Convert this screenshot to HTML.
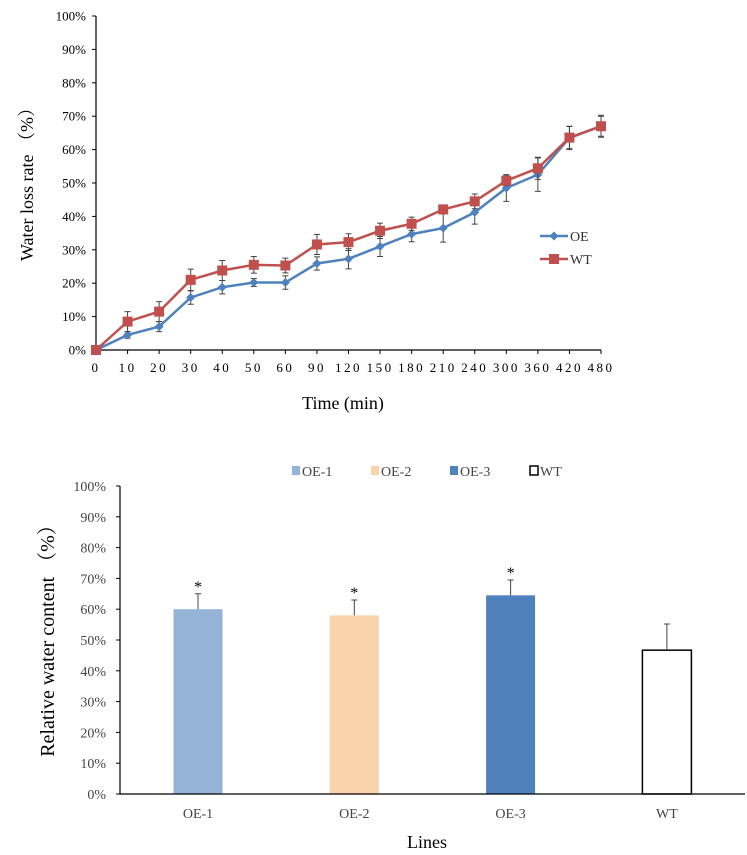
<!DOCTYPE html>
<html><head><meta charset="utf-8"><style>
html,body{margin:0;padding:0;background:#fff;}
svg{display:block;font-family:"Liberation Serif","Noto Serif CJK SC",serif;}
</style></head><body>
<svg id="s" width="747" height="855" viewBox="0 0 747 855">
<g id="top"></g>
<g id="bot"></g>
</svg>
<script>
const NS="http://www.w3.org/2000/svg";
const timeCats=["0","10","20","30","40","50","60","90","120","150","180","210","240","300","360","420","480"];
const oeVals=[0,4.5,7,15.7,18.8,20.2,20.2,25.9,27.3,31,34.7,36.5,41.2,48.5,52.5,63.5,67];
const oeErr=[0,1,1.5,2,2,1.2,2,2,3,3,2.3,4.2,3.5,4,5,3.5,3];
const wtVals=[0,8.5,11.5,21,23.8,25.5,25.3,31.6,32.3,35.7,37.8,42.1,44.5,50.7,54.4,63.6,67];
const wtErr=[0,3,3,3.2,3,2.5,2.2,3,2.5,2.3,2,0,2.2,1.5,3.3,3.3,3.3];
const yTicks=[0,10,20,30,40,50,60,70,80,90,100];
const barCats=["OE-1","OE-2","OE-3","WT"];
const barVals=[60,58,64.5,46.7];
const barErr=[5,5,5,8.5];
const barColors=["#95b3d7","#fad3ad","#4f81bd","#ffffff"];

function mk(p,tag,attrs,txt){const e=document.createElementNS(NS,tag);for(const k in attrs)e.setAttribute(k,attrs[k]);if(txt!==undefined)e.textContent=txt;p.appendChild(e);return e;}

// ---- Top chart ----
const T=document.getElementById('top');
const tx0=96,tx1=601,ty0=350,ty1=16;
const tX=i=>tx0+i*(tx1-tx0)/(timeCats.length-1);
const tY=v=>ty0-v*(ty0-ty1)/100;
let ax=mk(T,'path',{d:`M${tx0} ${ty1}V${ty0}H${tx1}`,fill:'none',stroke:'#000','stroke-width':1.2});

yTicks.forEach(v=>{
  let t=mk(T,'line',{x1:tx0-4,x2:tx0,y1:tY(v),y2:tY(v),stroke:'#000'});
  
  let l=mk(T,'text',{x:tx0-10,y:tY(v)+4.5,'text-anchor':'end','font-size':13},v+'%');
  
});
timeCats.forEach((c,i)=>{
  let t=mk(T,'line',{x1:tX(i),x2:tX(i),y1:ty0,y2:ty0+4,stroke:'#000'});
  
  let l=mk(T,'text',{x:tX(i),y:372,'text-anchor':'middle','font-size':13,'letter-spacing':'2.5'},c);
  
});
function series(vals,err,color,marker,name){
  const g=mk(T,'g',{});
  
  vals.forEach((v,i)=>{ if(err[i]>0){
    const x=tX(i),a=tY(v+err[i]),b=tY(v-err[i]);
    let e=mk(g,'path',{d:`M${x} ${a}V${b}M${x-3} ${a}H${x+3}M${x-3} ${b}H${x+3}`,stroke:'#444','stroke-width':1,fill:'none'});
    
  }});
  let p=mk(g,'polyline',{points:vals.map((v,i)=>tX(i)+','+tY(v)).join(' '),fill:'none',stroke:color,'stroke-width':2.5});
  
  vals.forEach((v,i)=>{
    const x=tX(i),y=tY(v);let m;
    if(marker==='sq') m=mk(g,'rect',{x:x-5,y:y-5,width:10,height:10,fill:color});
    else m=mk(g,'path',{d:`M${x} ${y-4.5}L${x+4.5} ${y}L${x} ${y+4.5}L${x-4.5} ${y}Z`,fill:color});
    
  });
}
series(oeVals,oeErr,'#4f81bd','di','oe');
series(wtVals,wtErr,'#c0504d','sq','wt');
// legend
let lg=mk(T,'g',{});
mk(lg,'line',{x1:540,x2:568,y1:236,y2:236,stroke:'#4f81bd','stroke-width':2.5});
mk(lg,'path',{d:'M554 231.5L558.5 236L554 240.5L549.5 236Z',fill:'#4f81bd'});
let le1=mk(lg,'text',{x:570,y:241,'font-size':14,fill:'#333'},'OE');
mk(lg,'line',{x1:540,x2:568,y1:259,y2:259,stroke:'#c0504d','stroke-width':2.5});
mk(lg,'rect',{x:549,y:254,width:10,height:10,fill:'#c0504d'});
let le2=mk(lg,'text',{x:570,y:264,'font-size':14,fill:'#333'},'WT');
let yt=mk(T,'text',{x:0,y:0,transform:'translate(33,180) rotate(-90)','text-anchor':'middle','font-size':18},'Water loss rate （%）');

let xt=mk(T,'text',{x:343,y:409,'text-anchor':'middle','font-size':18},'Time (min)');


// ---- Bottom chart ----
const B=document.getElementById('bot');
const bx0=120,bx1=745,by0=794,by1=486;
const bY=v=>by0-v*(by0-by1)/100;
const bX=i=>198+i*156.3;
yTicks.forEach(v=>{
  let t=mk(B,'line',{x1:bx0-4,x2:bx0,y1:bY(v),y2:bY(v),stroke:'#000'});
  
  let l=mk(B,'text',{x:bx0-14,y:bY(v)+5,'text-anchor':'end','font-size':14,fill:'#444'},v+'%');
  
});
barCats.forEach((c,i)=>{
  const x=bX(i),w=49,top=bY(barVals[i]);
  const isW=barColors[i]==='#ffffff';
  let r=mk(B,'rect',{x:x-w/2,y:top,width:w,height:by0-top,fill:barColors[i],stroke:isW?'#000':'none','stroke-width':1.5});
  
  const et=bY(barVals[i]+barErr[i]);
  let e=mk(B,'path',{d:`M${x} ${top}V${et}M${x-3} ${et}H${x+3}`,stroke:'#444',fill:'none'});
  
  if(i<3){let s=mk(B,'text',{x:x,y:et-2,'text-anchor':'middle','font-size':16},'*');}
  let l=mk(B,'text',{x:x,y:818,'text-anchor':'middle','font-size':14,fill:'#444'},c);
  
  const lx=[292,371,450,530][i];
  let lr=mk(B,'rect',{x:lx,y:466,width:8,height:9,fill:barColors[i],stroke:isW?'#000':'none','stroke-width':1.5});
  
  let lt=mk(B,'text',{x:lx+10,y:476,'font-size':14,fill:'#444'},c);
  
});
let bax=mk(B,'path',{d:`M${bx0} ${by1}V${by0}H${bx1}`,fill:'none',stroke:'#000','stroke-width':1.2});

let byt=mk(B,'text',{x:0,y:0,transform:'translate(54,636) rotate(-90)','text-anchor':'middle','font-size':20},'Relative water content （%）');

let bxt=mk(B,'text',{x:427,y:848,'text-anchor':'middle','font-size':18},'Lines');

</script>
</body></html>
